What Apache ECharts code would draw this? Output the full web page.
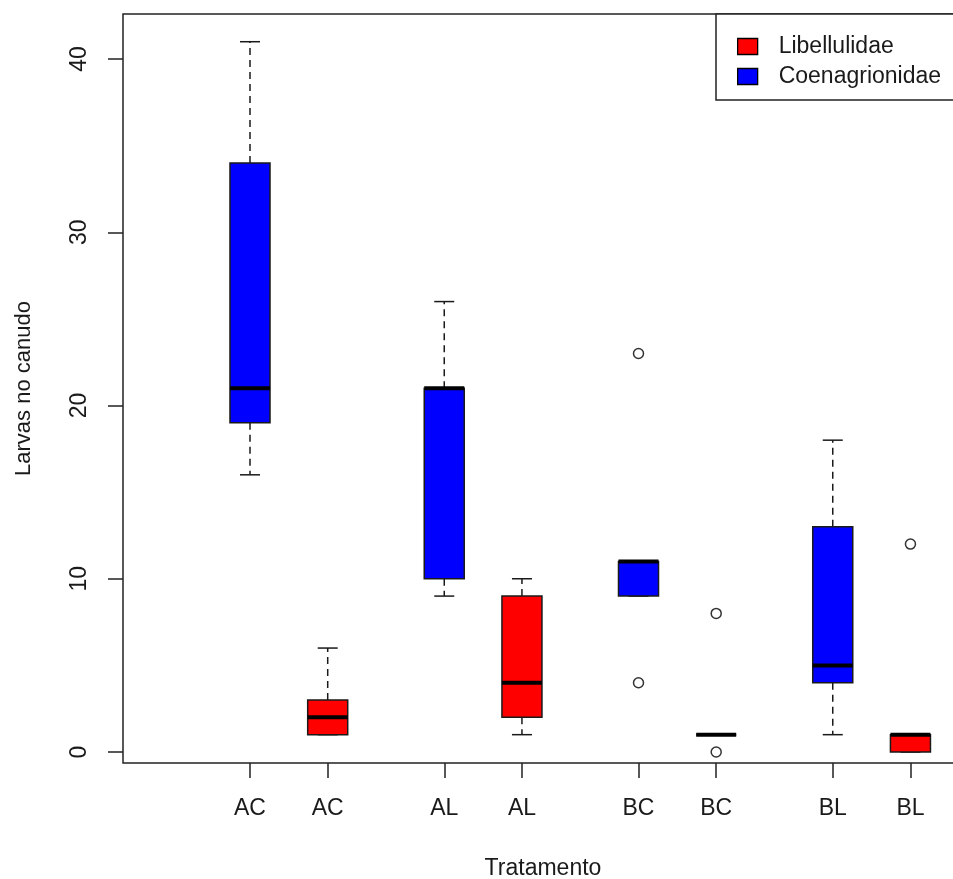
<!DOCTYPE html>
<html>
<head>
<meta charset="utf-8">
<script src="https://cdn.jsdelivr.net/npm/echarts@6/dist/echarts.min.js"></script>
<style>html,body{margin:0;padding:0;background:#fff}#c{width:953px;height:879px}</style>
</head>
<body>
<div id="c"></div>
<script>
// ---- data ----
const categories = ['AC', 'AL', 'BC', 'BL'];
const seriesNames = ['Libellulidae', 'Coenagrionidae'];
// box stats per treatment: [lower whisker, Q1, median, Q3, upper whisker]
const coenagrionidaeStats = [
  [16, 19, 21, 34, 41],
  [9, 10, 21, 21, 26],
  [9, 9, 11, 11, 11],
  [1, 4, 5, 13, 18]
];
const libellulidaeStats = [
  [1, 1, 2, 3, 6],
  [1, 2, 4, 9, 10],
  [1, 1, 1, 1, 1],
  [0, 0, 1, 1, 1]
];
const coenagrionidaeOutliers = [[], [], [23, 4], []];
const libellulidaeOutliers = [[], [], [8, 0], [12]];
const yTicks = [0, 10, 20, 30, 40];
const xTitle = 'Tratamento';
const yTitle = 'Larvas no canudo';

// ---- layout helpers ----
// within each treatment: Coenagrionidae first, Libellulidae second
function slot(g, m) { return 1 + g * 2.5 + m; }
const FONT = '"Liberation Sans", Arial, sans-serif';
const INK = '#1a1a1a';
const BOXW = 0.515;

function boxRows(stats, m) {
  return stats.map((s, g) => [slot(g, m)].concat(s));
}
function outlierRows(outs, m) {
  const rows = [];
  outs.forEach((arr, g) => arr.forEach(v => rows.push([slot(g, m), v])));
  return rows;
}

function renderBox(fill) {
  return function (params, api) {
    const x = api.value(0);
    const lo = api.value(1), q1 = api.value(2), med = api.value(3), q3 = api.value(4), hi = api.value(5);
    const hw = api.size([BOXW, 0])[0] / 2;
    const px = api.coord([x, lo])[0];
    const yLo = api.coord([x, lo])[1];
    const yQ1 = api.coord([x, q1])[1];
    const yMed = api.coord([x, med])[1];
    const yQ3 = api.coord([x, q3])[1];
    const yHi = api.coord([x, hi])[1];
    const children = [];
    const dash = { stroke: INK, lineWidth: 1.5, lineDash: [7, 5] };
    const solid = { stroke: INK, lineWidth: 1.5 };
    if (hi > q3) {
      children.push({ type: 'line', shape: { x1: px, y1: yQ3, x2: px, y2: yHi }, style: dash });
    }
    if (lo < q1) {
      children.push({ type: 'line', shape: { x1: px, y1: yQ1, x2: px, y2: yLo }, style: dash });
    }
    children.push({ type: 'line', shape: { x1: px - hw / 2, y1: yHi, x2: px + hw / 2, y2: yHi }, style: solid });
    children.push({ type: 'line', shape: { x1: px - hw / 2, y1: yLo, x2: px + hw / 2, y2: yLo }, style: solid });
    children.push({
      type: 'rect',
      shape: { x: px - hw, y: yQ3, width: hw * 2, height: yQ1 - yQ3 },
      style: { fill: fill, stroke: INK, lineWidth: 1.5 }
    });
    children.push({ type: 'line', shape: { x1: px - hw, y1: yMed, x2: px + hw, y2: yMed }, style: { stroke: '#000', lineWidth: 4 } });
    return { type: 'group', children: children };
  };
}

const tickPositions = [];
const tickLabelMap = {};
categories.forEach((c, g) => {
  [0, 1].forEach(m => { const p = slot(g, m); tickPositions.push(p); tickLabelMap[p] = c; });
});

const UNIT = 77.7;
const GRID_LEFT = 123, GRID_W = 840;
const xMin = 1 - 127 / UNIT;
const xMax = xMin + GRID_W / UNIT;

const chart = echarts.init(document.getElementById('c'), null, { renderer: 'canvas' });
chart.setOption({
  animation: false,
  backgroundColor: '#fff',
  textStyle: { fontFamily: FONT },
  grid: {
    left: GRID_LEFT, top: 14, width: GRID_W, bottom: 116,
    outerBoundsMode: 'none', containLabel: false,
    show: true, borderColor: '#222', borderWidth: 1.5, backgroundColor: 'transparent'
  },
  legend: {
    data: seriesNames,
    orient: 'vertical',
    left: 716, top: 14,
    padding: [21, 20, 12, 21],
    itemWidth: 20, itemHeight: 16, itemGap: 7,
    icon: 'rect',
    borderColor: '#222', borderWidth: 1.5, backgroundColor: '#fff',
    itemStyle: { borderColor: '#000', borderWidth: 1.3 },
    textStyle: { fontFamily: FONT, fontSize: 23, color: INK, lineHeight: 23, padding: [0, 0, 0, 16] }
  },
  xAxis: {
    type: 'value', min: xMin, max: xMax,
    splitLine: { show: false },
    axisLine: { show: false, onZero: false },
    axisTick: { show: true, customValues: tickPositions, length: 15, lineStyle: { color: '#222', width: 1.5 } },
    axisLabel: {
      customValues: tickPositions, margin: 34,
      formatter: v => tickLabelMap[v] || '',
      fontFamily: FONT, fontSize: 23, color: INK
    },
    name: xTitle, nameLocation: 'middle', nameGap: 94,
    nameTextStyle: { fontFamily: FONT, fontSize: 23, color: INK }
  },
  yAxis: {
    type: 'value', min: -0.635, max: 42.6,
    splitLine: { show: false },
    axisLine: { show: false, onZero: false },
    axisTick: { show: true, customValues: yTicks, length: 15, lineStyle: { color: '#222', width: 1.5 } },
    axisLabel: {
      customValues: yTicks, rotate: 90, margin: 32,
      fontFamily: FONT, fontSize: 23, color: INK
    },
    name: yTitle, nameLocation: 'middle', nameGap: 88, nameRotate: 90,
    nameTextStyle: { fontFamily: FONT, fontSize: 22, color: INK }
  },
  series: [
    {
      name: 'Coenagrionidae', type: 'custom',
      itemStyle: { color: '#0000FF', borderColor: '#000', borderWidth: 1.3 },
      renderItem: renderBox('#0000FF'),
      encode: { x: 0, y: [1, 2, 3, 4, 5] },
      data: boxRows(coenagrionidaeStats, 0)
    },
    {
      name: 'Libellulidae', type: 'custom',
      itemStyle: { color: '#FF0000', borderColor: '#000', borderWidth: 1.3 },
      renderItem: renderBox('#FF0000'),
      encode: { x: 0, y: [1, 2, 3, 4, 5] },
      data: boxRows(libellulidaeStats, 1)
    },
    {
      name: 'Coenagrionidae outliers', type: 'scatter', symbol: 'circle', symbolSize: 10,
      itemStyle: { color: '#fff', borderColor: '#000', borderWidth: 1.5 },
      data: outlierRows(coenagrionidaeOutliers, 0)
    },
    {
      name: 'Libellulidae outliers', type: 'scatter', symbol: 'circle', symbolSize: 10,
      itemStyle: { color: '#fff', borderColor: '#000', borderWidth: 1.5 },
      data: outlierRows(libellulidaeOutliers, 1)
    }
  ]
});
</script>
</body>
</html>
